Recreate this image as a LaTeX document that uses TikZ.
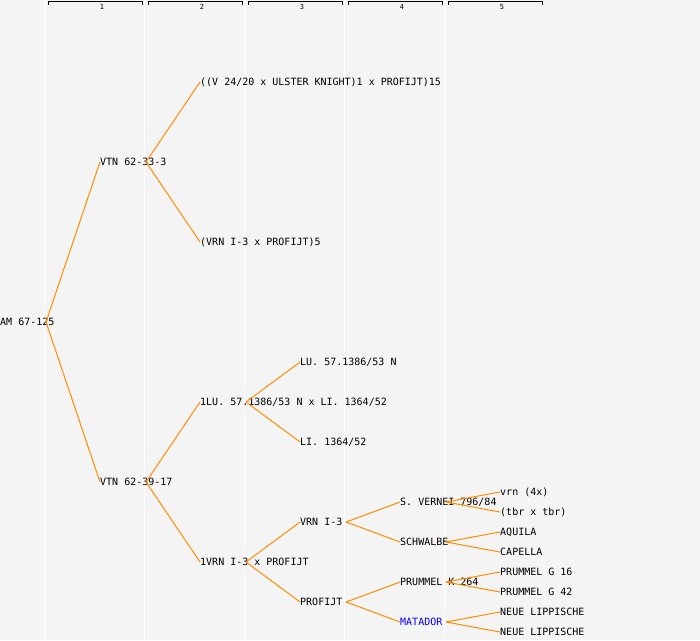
\documentclass[tikz,border=0pt]{standalone}
\usepackage{fontspec}
\setmonofont{DejaVu Sans Mono}
\usetikzlibrary{positioning}

\definecolor{bgray}{HTML}{F4F4F4}
\definecolor{branch}{HTML}{FF8C00}

\tikzset{
  entry/.style={anchor=west, inner sep=0pt, text height=7.3pt, text depth=0pt,
    font=\ttfamily\fontsize{10}{10}\selectfont},
  link/.style={draw=branch, line width=1pt},
}

\begin{document}
\begin{tikzpicture}[x=1pt, y=-1pt]
      \fill[bgray] (0,0) rectangle (700,640);
      \useasboundingbox (0,0) rectangle (700,640);
      % generation columns
      \foreach \c in {1,...,5} {
        \draw[white, line width=1.5pt] (\c*100-55.5,0) -- (\c*100-55.5,640);
        \draw[line width=0.8pt] (\c*100-52,4.5) -- (\c*100-52,1.5) -- (\c*100+42,1.5) -- (\c*100+42,4.5);
        \node[inner sep=0pt, font=\ttfamily\fontsize{7}{7}\selectfont] (col\c) at (\c*100+2,6.5) {\c};
      }
      % pedigree
      \node[entry] (am) at (0,322) {AM 67-125};
      \node[entry] (vtn33) at (100,162) {VTN 62-33-3};
      \node[entry] (vtn39) at (100,482) {VTN 62-39-17};
      \node[entry] (v24) at (200,82) {((V 24/20 x ULSTER KNIGHT)1 x PROFIJT)15};
      \node[entry] (vrn5) at (200,242) {(VRN I-3 x PROFIJT)5};
      \node[entry] (lu1) at (200,402) {1LU. 57.1386/53 N x LI. 1364/52};
      \node[entry] (vrn1) at (200,562) {1VRN I-3 x PROFIJT};
      \node[entry] (lu) at (300,362) {LU. 57.1386/53 N};
      \node[entry] (li) at (300,442) {LI. 1364/52};
      \node[entry] (vrn) at (300,522) {VRN I-3};
      \node[entry] (profijt) at (300,602) {PROFIJT};
      \node[entry] (vernei) at (400,502) {S. VERNEI 796/84};
      \node[entry] (schwalbe) at (400,542) {SCHWALBE};
      \node[entry] (prummelk) at (400,582) {PRUMMEL K 264};
      \node[entry, text=blue] (matador) at (400,622) {MATADOR};
      \node[entry] (vrn4x) at (500,492) {vrn (4x)};
      \node[entry] (tbr) at (500,512) {(tbr x tbr)};
      \node[entry] (aquila) at (500,532) {AQUILA};
      \node[entry] (capella) at (500,552) {CAPELLA};
      \node[entry] (pg16) at (500,572) {PRUMMEL G 16};
      \node[entry] (pg42) at (500,592) {PRUMMEL G 42};
      \node[entry] (neue1) at (500,612) {NEUE LIPPISCHE};
      \node[entry] (neue2) at (500,632) {NEUE LIPPISCHE};
      % branches
      \foreach \p/\k in {am/vtn33, am/vtn39, vtn33/v24, vtn33/vrn5, vtn39/lu1, vtn39/vrn1,
          lu1/lu, lu1/li, vrn1/vrn, vrn1/profijt, vrn/vernei, vrn/schwalbe,
          profijt/prummelk, profijt/matador, vernei/vrn4x, vernei/tbr,
          schwalbe/aquila, schwalbe/capella, prummelk/pg16, prummelk/pg42,
          matador/neue1, matador/neue2}
        \draw[link] ([xshift=46pt]\p.west) -- (\k.west);
\end{tikzpicture}
\end{document}
